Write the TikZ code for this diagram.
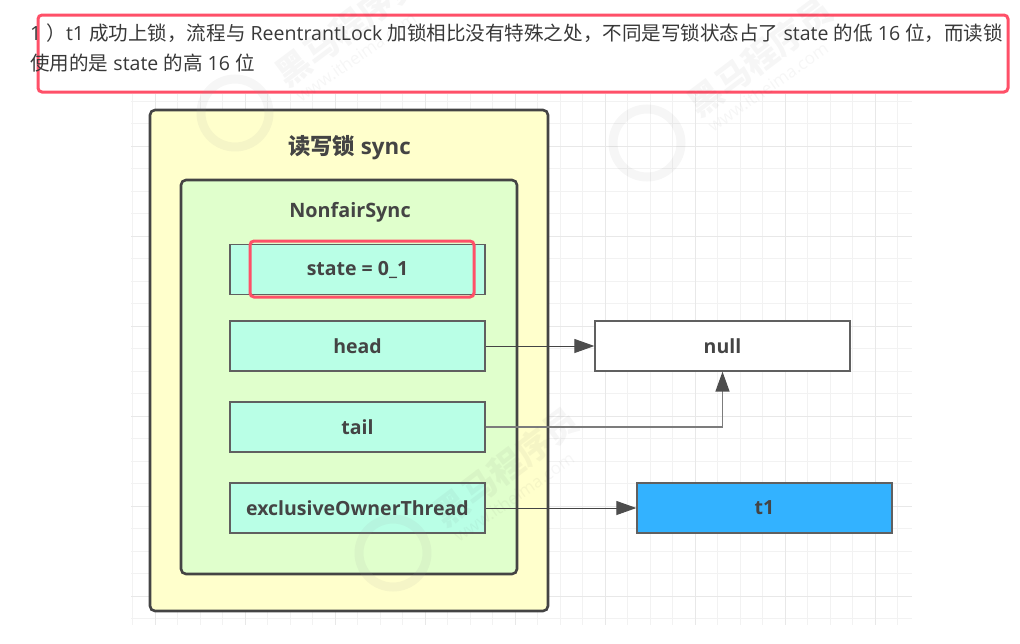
\documentclass[tikz,border=0pt]{standalone}
\usepackage{fontspec}
\setmainfont{Open Sans}
\newfontfamily\cjk{Noto Sans CJK SC}
\usetikzlibrary{arrows.meta}

\definecolor{inkgray}{HTML}{444444}
\definecolor{markred}{HTML}{FF5068}
\definecolor{syncyellow}{HTML}{FFFFCC}
\definecolor{nonfairgreen}{HTML}{E0FFCC}
\definecolor{fieldmint}{HTML}{B9FFE6}
\definecolor{threadblue}{HTML}{33B2FF}

\tikzset{
  fieldbox/.style={draw=inkgray!85, line width=1.3pt, fill=fieldmint, minimum width=255pt,
    minimum height=50pt, inner sep=0pt, text=inkgray,
    font=\fontsize{19.5}{19.5}\selectfont\bfseries},
  outerbox/.style={draw=inkgray, line width=2.6pt, rounded corners=5pt, inner sep=0pt},
  markbox/.style={draw=markred, line width=3pt, rounded corners=4pt, inner sep=0pt},
  titletext/.style={inner sep=0pt, text=inkgray},
  bodytext/.style={anchor=west, inner sep=0pt, text=black!78,
    font=\fontsize{19.55}{19.55}\selectfont},
  link/.style={draw=inkgray, line width=1pt, -{Triangle[length=20pt,width=14pt,color=inkgray!95]}},
  marktext/.style={inner sep=0pt, opacity=0.05, text=black!70}
}

\begin{document}
\begin{tikzpicture}[x=1pt, y=-1pt]

  \useasboundingbox (0,0) rectangle (1020,643);
  \clip (0,0) rectangle (1020,643);

  % grid behind the boxes
  \foreach \gx in {132.5,155,...,900}
    \draw[black!5, line width=1pt] (\gx,94) -- (\gx,625);
  \foreach \gy in {101,123.5,...,620}
    \draw[black!5, line width=1pt] (131,\gy) -- (912,\gy);
  \foreach \gx in {155,245,...,880}
    \draw[black!9, line width=1pt] (\gx,94) -- (\gx,625);
  \foreach \gy in {146,236,...,600}
    \draw[black!9, line width=1pt] (131,\gy) -- (912,\gy);

  \node[outerbox, fill=syncyellow, minimum width=398pt, minimum height=501pt] (sync) at (349,360.5) {};
  \node[outerbox, fill=nonfairgreen, minimum width=336pt, minimum height=394pt] (nonfair) at (349,377) {};
  \node[titletext, font=\fontsize{22.3}{22.3}\selectfont\bfseries] (synctitle) at (349.5,148) {{\cjk 读写锁} sync};
  \node[titletext, font=\fontsize{19.8}{19.8}\selectfont\bfseries] (nonfairtitle) at (350,212) {NonfairSync};

  \node[fieldbox] (state) at (357.5,269.5) {state = 0\_1};
  \node[fieldbox] (head) at (357.5,346) {head};
  \node[fieldbox] (tail) at (357.5,427) {tail};
  \node[fieldbox] (owner) at (357.5,508) {exclusiveOwnerThread};
  \node[fieldbox, fill=white] (null) at (722.5,346) {null};
  \node[fieldbox, fill=threadblue] (t1) at (764.5,508) {t1};

  \path[link] (head) -- (null);
  \path[link, draw=inkgray!70, line width=1.6pt] (tail) -| (null);
  \path[link] (owner) -- (t1);

  \node[markbox, minimum width=970pt, minimum height=77pt] (notemark) at (523,53.5) {};
  \node[markbox, minimum width=224pt, minimum height=56pt] (statemark) at (362,269) {};

  \node[bodytext] (lineone) at (30,33.5) {1 {\cjk ）}t1 {\cjk 成功上锁，流程与} ReentrantLock {\cjk 加锁相比没有特殊之处，不同是写锁状态占了} state {\cjk 的低} 16 {\cjk 位，而读锁}};
  \node[bodytext] (linetwo) at (30,63.5) {{\cjk 使用的是} state {\cjk 的高} 16 {\cjk 位}};

  % faint watermarks
  \foreach \wx/\wy in {235/113, 647/143, 393/553} {
    \draw[black!40, opacity=0.09, line width=9pt] (\wx,\wy) circle (34pt);
    \node[marktext, rotate=37, font=\cjk\fontsize{34}{34}\selectfont\bfseries] at (\wx+113,\wy-86) {黑马程序员};
    \node[marktext, rotate=35, font=\fontsize{17}{17}\selectfont] at (\wx+121,\wy-56) {www.itheima.com};
  }

\end{tikzpicture}
\end{document}
